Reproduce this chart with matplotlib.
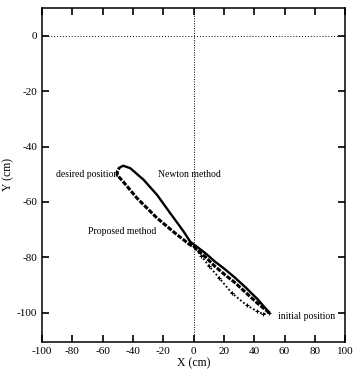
import matplotlib
matplotlib.use("Agg")
import matplotlib.pyplot as plt

# Newton method trajectory (initial -> desired), upper solid path + upper loop branch
newton_x = [50, 46, 42, 34, 27, 20, 14, 8, 3, 0, -2.3, -6.7, -15.5, -24.2, -33, -41.8, -46.5, -49]
newton_y = [-100, -97.5, -95, -90.7, -87.2, -84, -81.5, -78.6, -76.5, -75.3, -74.3, -70.6, -64, -57.4, -52, -47.8, -46.9, -47.6]

# Proposed method trajectory: middle marker path + lower loop branch
prop_x = [50, 46, 42, 34, 27, 20, 14, 8, 3, 0, -2.3, -11, -24.2, -37.4, -46, -50.5, -50.3, -49]
prop_y = [-100, -98.3, -96.5, -92.5, -89, -86, -83.2, -80, -77.6, -76, -75.5, -71.8, -65.8, -58.6, -53, -50.2, -48.8, -47.6]

# Third path (lower dotted, sagging)
low_x = [50, 46, 42, 35, 25, 17, 10, 5, 0, -3]
low_y = [-100, -100.5, -99.5, -97.3, -92.8, -87.5, -83, -79.5, -76, -74.8]

xticks = [-100, -80, -60, -40, -20, 0, 20, 40, 60, 80, 100]
yticks = [0, -20, -40, -60, -80, -100]

plt.rcParams['font.family'] = ['Liberation Serif', 'DejaVu Serif']

fig = plt.figure(figsize=(3.54, 3.88), dpi=100)
ax = fig.add_axes([0.119, 0.119, 0.856, 0.860])

ax.axhline(0, color='black', lw=0.7, ls=(0, (1, 2)))
ax.axvline(0, color='black', lw=0.7, ls=(0, (1, 1.5)))

ax.plot(newton_x, newton_y, color='black', lw=1.7, solid_capstyle='round', solid_joinstyle='round')
ax.plot(prop_x, prop_y, color='black', lw=2.2, ls=(0, (1.6, 0.5)))
ax.plot(low_x, low_y, color='black', lw=1.3, ls=(0, (1, 1.2)))
ax.plot(low_x, low_y, color='black', lw=0, marker='+', ms=3, mew=0.8)

ax.text(-49.5, -50.2, 'desired position', fontsize=7, ha='right', va='center')
ax.text(-23.5, -50.2, 'Newton method', fontsize=7, ha='left', va='center')
ax.text(-69.5, -70.8, 'Proposed method', fontsize=7, ha='left', va='center')
ax.text(56, -101.2, 'initial position', fontsize=7, ha='left', va='center')

ax.set_xlim(-100, 100)
ax.set_ylim(-110.5, 10)
ax.set_xticks(xticks)
ax.set_yticks(yticks)
ax.set_xticklabels([str(v) for v in xticks])
ax.set_yticklabels([str(v) for v in yticks])
ax.tick_params(direction='in', top=True, right=True, length=5, width=1.2, labelsize=8)
for s in ax.spines.values():
    s.set_linewidth(1.1)

ax.set_xlabel('X (cm)', fontsize=8.5, labelpad=1)
ax.set_ylabel('Y (cm)', fontsize=8.5, labelpad=2)

fig.savefig('out.png', dpi=100)
